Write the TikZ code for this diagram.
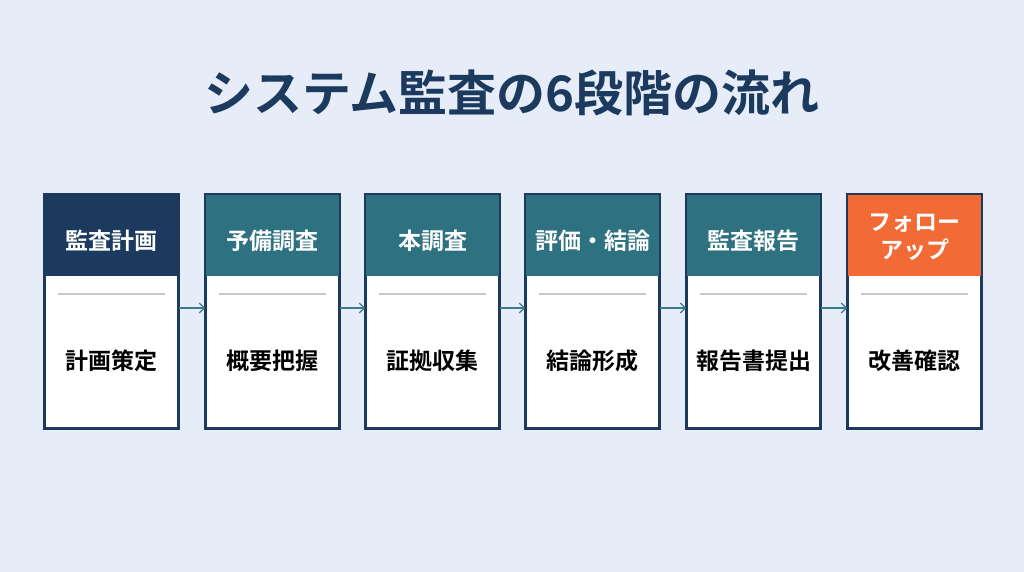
\documentclass[tikz,border=0pt]{standalone}
\usepackage{fontspec}
\setmainfont{Noto Sans CJK JP}[BoldFont={Noto Sans CJK JP Bold}]
\usetikzlibrary{arrows.meta}
\definecolor{bgc}{HTML}{E6EDF8}
\definecolor{navy}{HTML}{1B3A5E}
\definecolor{tealc}{HTML}{2E7282}
\definecolor{orangec}{HTML}{F26A35}
\definecolor{arrowc}{HTML}{3A7A8A}
\definecolor{sepc}{HTML}{C8C8C8}
\tikzset{
  stagebox/.style={draw=navy, line width=1.6pt, fill=white, minimum width=133pt, minimum height=233pt, inner sep=0pt},
  headbox/.style={fill=#1, minimum width=133pt, minimum height=81pt, inner sep=0pt},
  headtext/.style={text=white, font=\bfseries\fontsize{23}{28}\selectfont, align=center, inner sep=0pt},
  bodytext/.style={font=\bfseries\fontsize{23}{27}\selectfont, text=black},
  sepline/.style={draw=sepc, line width=2pt},
  flow/.style={draw=arrowc, line width=1.3pt, -{Straight Barb[length=5pt,width=10pt]}}
}
\begin{document}
\begin{tikzpicture}[x=1pt,y=-1pt]
\fill[bgc] (0,0) rectangle (1024,572);
\useasboundingbox (0,0) rectangle (1024,572);
\node[text=navy, font=\bfseries\fontsize{49}{54}\selectfont] (title) at (512,93) {システム監査の6段階の流れ};
\foreach \i/\x/\hc/\ty/\hdtext/\bdtext in {1/45/navy/241/監査計画/計画策定, 2/206/tealc/241/予備調査/概要把握, 3/366/tealc/241/本調査/証拠収集, 4/526/tealc/241/評価・結論/結論形成, 5/687/tealc/241/監査報告/報告書提出, 6/848/orangec/237/{フォロー\\アップ}/改善確認}{
  \node[stagebox] (box\i) at (\x+66.5,311.5) {};
  \node[headbox=\hc] (head\i) at (\x+66.5,235.5) {};
  \node[headtext] (htxt\i) at (\x+66.5,\ty) {\hdtext};
  \draw[draw=navy, line width=1.6pt] (box\i.north west) rectangle (box\i.south east);
  \coordinate (sa\i) at (\x+13,294);
  \coordinate (sb\i) at (\x+120,294);
  \draw[sepline] (sa\i) -- (sb\i);
  \node[bodytext] (body\i) at (\x+66.5,361) {\bdtext};
}
\foreach \a/\b in {1/2,2/3,3/4,4/5,5/6}{
  \draw[flow] (box\a.east |- 0,308) -- (box\b.west |- 0,308);
}
\end{tikzpicture}
\end{document}
